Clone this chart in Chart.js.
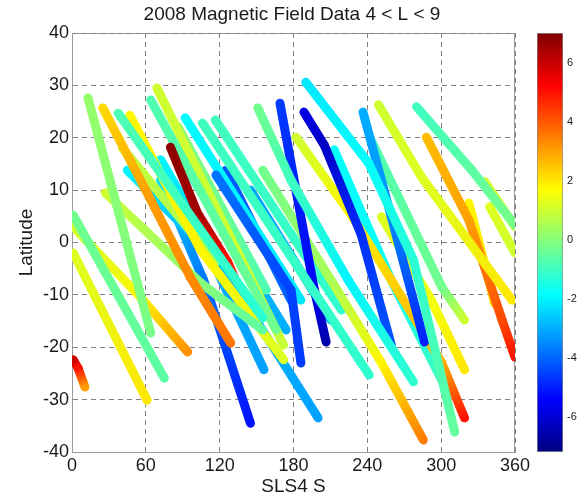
<!DOCTYPE html>
<html>
<head>
<meta charset="utf-8">
<script src="https://cdn.jsdelivr.net/npm/chart.js@4.4.1/dist/chart.umd.min.js"></script>
<style>
  html, body { margin: 0; padding: 0; background: #fff; }
  #wrap { position: relative; width: 584px; height: 500px; overflow: hidden; }
  #main { position: absolute; left: 0; top: 0; }
  #cbar { position: absolute; left: 520px; top: 0; }
</style>
</head>
<body>
<div id="wrap">
  <canvas id="main" width="584" height="500"></canvas>
  <canvas id="cbar" width="64" height="500"></canvas>
</div>
<script>
// SLS4 longitude (deg) of each orbit track
const trackLon = [
  [13, 64], [1, 75], [1, 55.5, 94], [1, 61], [1, 5, 10.5],
  [25, 61, 96, 129], [27, 104.5, 155], [37.5, 155], [47, 104.5, 172], [41, 117],
  [45, 110, 156], [72, 107, 145], [80, 102, 126.5, 133], [64, 166], [69, 172],
  [86, 158], [106, 241.5], [72, 129, 200], [151, 178, 224.5, 277.5], [169, 196.5, 206.5],
  [188.5, 205, 235, 259.5], [190, 241, 277.5, 311], [236.5, 259.5, 286.5], [249, 284, 357.5], [280, 325, 360],
  [288, 322.5, 349.5, 360], [322.5, 343.5], [335.5, 360], [339.5, 360], [182, 227, 259.5, 300.5, 319],
  [243, 300.5, 319], [213, 259.5, 300.5], [155, 210.5, 251.5, 285.5], [251.5, 292, 319], [117, 178, 186],
  [92, 186], [84, 174], [116.5, 219], [125, 178], [145, 210.5]
];
// latitude (deg)
const trackLat = [
  [27.6, -17.3], [5.2, -25.9], [3, -10.4, -20.9], [-2, -30.1], [-22.4, -24, -27.6],
  [25.7, 9.5, -6.6, -19.2], [9.5, -7.7, -16.7], [24.7, -14.4], [24.3, -1.4, -22.4], [18, -3.7],
  [13.8, -1.4, -24.3], [11.9, -7.2, -34.5], [18.2, 5.6, -3.7, -7.2], [27.2, -16.7], [29.5, -19.6],
  [22.1, -9.1], [22.8, -25.3], [15.8, -7.2, -33.5], [25.7, 11.9, -7.2, -26.6], [26.6, -8.5, -19],
  [24.9, 18.6, 1.5, -19.6], [30.6, 15.2, -3.3, -36.2], [24.9, 4.9, -19], [26.3, 12.5, -11], [25.9, 13.8, 3.3],
  [20.1, 4.3, -14.8, -21.9], [7.5, -11.6], [11.6, 3], [6.8, -2], [20.1, 5.2, -7.2, -23, -33.5],
  [19.6, -8.5, -14.8], [17.7, -7.2, -26.3], [13.8, -7.2, -23, -37.7], [4.9, -11, -24.3], [12.9, -9.1, -23],
  [23.8, -11], [17.7, -16.7], [23.4, -12.9], [13.8, -11], [10, -14.8]
];
// field value shown by colour
const trackField = [
  [0.2, -0.2], [-0.3, -0.6], [1.0, 1.8, 3.2], [1.2, 2.0], [6.0, 5.0, 3.0],
  [2.2, 3.0, 3.3, 3.6], [1.0, 0.0, -0.6], [-0.8, -1.3], [1.8, 1.8, 1.2], [0.9, 0.4],
  [-2.0, -3.0, -3.2], [-2.3, -3.8, -5.2], [6.8, 6.5, 5.0, 4.5], [-0.8, -0.3], [1.0, 0.9],
  [0.0, -0.8], [-1.0, -1.2], [-2.0, -2.8, -3.2], [-0.3, -1.0, -2.0, -1.2], [-4.6, -5.5, -6.6],
  [-5.8, -6.2, -4.8, -4.2], [-2.2, -1.8, -1.3, -0.5], [-3.0, -3.5, -5.0], [1.0, 1.2, 2.0], [-1.0, -0.6, -0.2],
  [2.6, 3.0, 4.2, 5.0], [1.8, 2.2], [1.0, 0.9], [1.2, 1.0], [1.0, 1.8, 2.3, 2.8, 5.0],
  [-0.8, -0.3, 1.0], [-1.8, -1.8, -1.0], [-0.3, 0.5, 1.8, 3.5], [1.2, 1.5, 2.0], [-3.8, -4.5, -4.6],
  [-1.9, -2.2], [-2.8, -3.0], [-1.0, -1.2], [-4.2, -4.0], [-3.2, -3.0]
];

const xTicks = [0, 60, 120, 180, 240, 300, 360];
const yTicks = [-40, -30, -20, -10, 0, 10, 20, 30, 40];
const cTicks = [-6, -4, -2, 0, 2, 4, 6];
const cMin = -7.2, cMax = 7.0;

Chart.defaults.font.family = '"Liberation Sans", Arial, sans-serif';
Chart.defaults.color = '#1a1a1a';

// matlab jet colormap
function jet(v) {
  const t = Math.min(1, Math.max(0, (v - cMin) / (cMax - cMin)));
  const c = (d) => Math.round(255 * Math.min(1, Math.max(0, 1.5 - Math.abs(4 * t - d))));
  return `rgb(${c(3)},${c(2)},${c(1)})`;
}
const jetStops = [[0, 'rgb(0,0,128)'], [0.125, 'rgb(0,0,255)'], [0.375, 'rgb(0,255,255)'],
                  [0.625, 'rgb(255,255,0)'], [0.875, 'rgb(255,0,0)'], [1, 'rgb(128,0,0)']];

function segColor(ctx) {
  const f = trackField[ctx.datasetIndex];
  const g = ctx.chart.ctx.createLinearGradient(ctx.p0.x, ctx.p0.y, ctx.p1.x, ctx.p1.y);
  g.addColorStop(0, jet(f[ctx.p0DataIndex]));
  g.addColorStop(1, jet(f[ctx.p1DataIndex]));
  return g;
}

const datasets = trackLon.map((lons, i) => ({
  data: lons.map((x, j) => ({ x: x, y: trackLat[i][j] })),
  showLine: true,
  borderWidth: 9,
  borderColor: jet(trackField[i][0]),
  borderCapStyle: 'round',
  borderJoinStyle: 'round',
  pointRadius: 0,
  segment: { borderColor: segColor }
}));

// box on the top and right edges
const boxPlugin = {
  id: 'box',
  beforeDraw(chart) {
    const { ctx, chartArea: a } = chart;
    ctx.save();
    ctx.strokeStyle = '#999';
    ctx.lineWidth = 1;
    ctx.beginPath();
    ctx.moveTo(a.left, a.top + 0.5);
    ctx.lineTo(a.right - 0.5, a.top + 0.5);
    ctx.lineTo(a.right - 0.5, a.bottom);
    ctx.stroke();
    ctx.restore();
  }
};

new Chart(document.getElementById('main'), {
  type: 'scatter',
  data: { datasets: datasets },
  plugins: [boxPlugin],
  options: {
    responsive: false,
    animation: false,
    layout: { padding: 0 },
    plugins: {
      legend: { display: false },
      tooltip: { enabled: false },
      title: {
        display: true,
        text: '2008 Magnetic Field Data 4 < L < 9',
        font: { size: 19, weight: 'normal' },
        color: '#1a1a1a',
        padding: { top: 3.6, bottom: 6.6 }
      }
    },
    scales: {
      x: {
        type: 'linear', min: 0, max: 360,
        afterBuildTicks: (s) => { s.ticks = xTicks.map(v => ({ value: v })); },
        afterFit: (s) => { s.height = 48; },
        ticks: { font: { size: 18 }, padding: 3, color: '#1a1a1a' },
        grid: { color: '#808080', lineWidth: 1, drawTicks: false },
        border: { display: true, color: '#999', width: 1, dash: [5, 4] },
        title: { display: true, text: 'SLS4 S', font: { size: 19 }, color: '#1a1a1a', padding: { top: 0, bottom: 1.6 } }
      },
      y: {
        type: 'linear', min: -40, max: 40,
        afterBuildTicks: (s) => { s.ticks = yTicks.map(v => ({ value: v })); },
        afterFit: (s) => { s.width = 72; },
        ticks: { font: { size: 18 }, padding: 3, color: '#1a1a1a' },
        grid: { color: '#808080', lineWidth: 1, drawTicks: false },
        border: { display: true, color: '#999', width: 1, dash: [5, 4] },
        title: { display: true, text: 'Latitude', font: { size: 19 }, color: '#1a1a1a', padding: { top: 15.6, bottom: 0 } }
      },
      // empty right axis reserving the room where the colour bar sits
      yRight: {
        type: 'linear', position: 'right', min: -40, max: 40,
        afterFit: (s) => { s.width = 69; },
        ticks: { display: false },
        grid: { display: false, drawTicks: false },
        border: { display: false }
      }
    }
  }
});

// colour bar
function jetGradient(chart) {
  const a = chart.chartArea;
  if (!a) return '#888';
  const g = chart.ctx.createLinearGradient(0, a.bottom, 0, a.top);
  jetStops.forEach(([t, c]) => g.addColorStop(t, c));
  return g;
}

new Chart(document.getElementById('cbar'), {
  type: 'bar',
  data: {
    labels: [''],
    datasets: [{
      data: [[cMin, cMax]],
      backgroundColor: (ctx) => jetGradient(ctx.chart),
      borderColor: '#8c8c8c',
      borderWidth: 1,
      borderSkipped: false,
      barPercentage: 1,
      categoryPercentage: 1
    }]
  },
  options: {
    responsive: false,
    animation: false,
    layout: { padding: { left: 17, right: 0, top: 33, bottom: 48 } },
    plugins: { legend: { display: false }, tooltip: { enabled: false } },
    scales: {
      x: { display: false },
      y: {
        position: 'right', min: cMin, max: cMax, z: 1,
        afterBuildTicks: (s) => { s.ticks = cTicks.map(v => ({ value: v })); },
        afterFit: (s) => { s.width = 21; },
        ticks: { font: { size: 11 }, padding: 4, color: '#1a1a1a' },
        grid: { color: '#333', lineWidth: 1, drawTicks: false },
        border: { display: false, dash: [4, 18] }
      }
    }
  }
});
</script>
</body>
</html>
